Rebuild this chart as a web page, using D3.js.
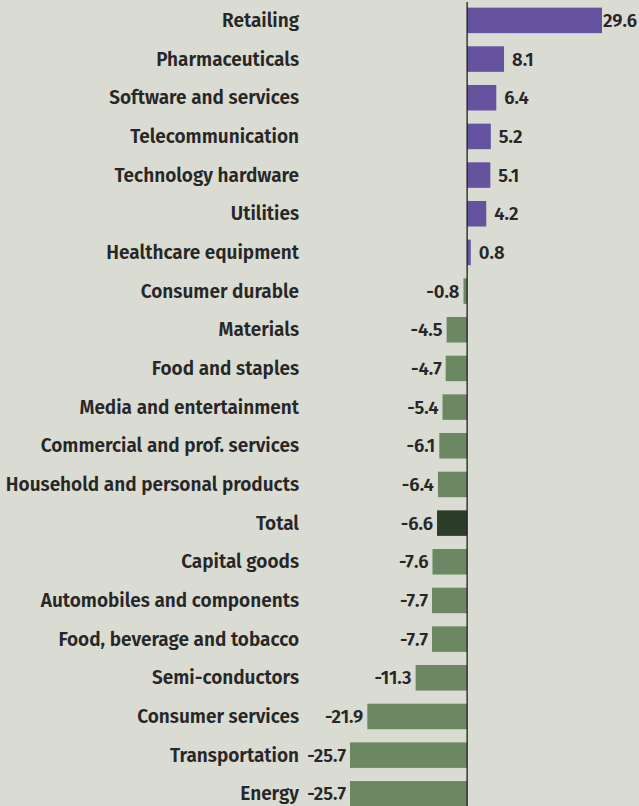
<!DOCTYPE html>
<html>
<head>
<meta charset="utf-8">
<script src="https://cdn.jsdelivr.net/npm/d3@7"></script>
<style>
  html, body { margin: 0; padding: 0; background: #dadbd3; }
  svg { display: block; }
  text { font-family: "Fira Sans", "Open Sans", "Noto Sans", sans-serif; font-weight: 600; fill: #272727; }
</style>
</head>
<body>
<svg id="chart" width="639" height="806"></svg>
<script>
// Sectors, ordered top to bottom
const sectors = [
  "Retailing", "Pharmaceuticals", "Software and services", "Telecommunication",
  "Technology hardware", "Utilities", "Healthcare equipment", "Consumer durable",
  "Materials", "Food and staples", "Media and entertainment",
  "Commercial and prof. services", "Household and personal products", "Total",
  "Capital goods", "Automobiles and components", "Food, beverage and tobacco",
  "Semi-conductors", "Consumer services", "Transportation", "Energy"
];
// Change per sector
const values = [
  29.6, 8.1, 6.4, 5.2, 5.1, 4.2, 0.8, -0.8, -4.5, -4.7, -5.4,
  -6.1, -6.4, -6.6, -7.6, -7.7, -7.7, -11.3, -21.9, -25.7, -25.7
];
const totalLabel = "Total";

const W = 639, H = 806;
const svg = d3.select("#chart");

const x = d3.scaleLinear().domain([-25.7, 29.6]).range([350, 602]);
const step = 38.67;
const y = d3.scaleBand()
  .domain(sectors)
  .range([20.4 - step / 2, 20.4 + step * (sectors.length - 0.5)])
  .paddingInner(0.34)
  .paddingOuter(0.17);

const colorPos = "#6553a0", colorNeg = "#6c8863", colorTotal = "#2c3d2a";
const data = sectors.map((s, i) => ({ sector: s, value: values[i] }));

// Bars
svg.append("g").selectAll("rect").data(data).join("rect")
  .attr("x", d => x(Math.min(0, d.value)))
  .attr("width", d => Math.abs(x(d.value) - x(0)))
  .attr("y", d => y(d.sector))
  .attr("height", y.bandwidth())
  .attr("fill", d => d.sector === totalLabel ? colorTotal : (d.value >= 0 ? colorPos : colorNeg));

// Zero line
svg.append("line")
  .attr("x1", x(0)).attr("x2", x(0))
  .attr("y1", 2).attr("y2", H)
  .attr("stroke", "#1e1e1e").attr("stroke-width", 1.3);

// Category labels
svg.append("g").selectAll("text").data(data).join("text")
  .attr("x", 299)
  .attr("y", d => y(d.sector) + y.bandwidth() / 2)
  .attr("dy", "0.35em")
  .attr("text-anchor", "end")
  .attr("font-size", 19)
  .text(d => d.sector);

// Value labels
const fmt = d3.format(".1f");
svg.append("g").selectAll("text").data(data).join("text")
  .attr("y", d => y(d.sector) + y.bandwidth() / 2)
  .attr("dy", "0.35em")
  .attr("font-size", 18.5)
  .attr("text-anchor", d => d.value >= 0 ? "start" : "end")
  .text(d => fmt(d.value).replace("\u2212", "-"))
  .each(function (d) {
    const el = d3.select(this);
    if (d.value >= 0) {
      const w = this.getComputedTextLength();
      el.attr("x", Math.min(x(d.value) + 8, W - 2 - w));
    } else {
      el.attr("x", x(d.value) - 4);
    }
  });
</script>
</body>
</html>
